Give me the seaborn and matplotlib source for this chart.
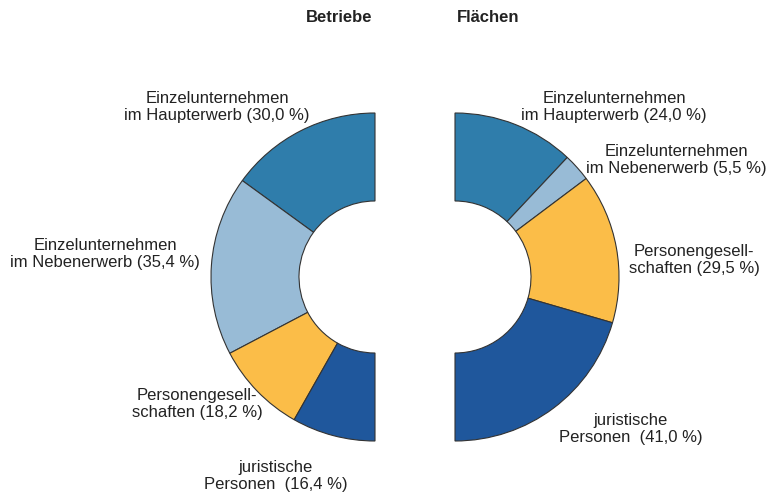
import matplotlib
matplotlib.use("Agg")
import matplotlib.pyplot as plt
import seaborn as sns

# Daten
kategorien = ["Einzelunternehmen im Haupterwerb", "Einzelunternehmen im Nebenerwerb",
              "Personengesellschaften", "juristische Personen"]
betriebe = [30.0, 35.4, 18.2, 16.4]
flaechen = [24.0, 5.5, 29.5, 41.0]
farben = ["#2f7dab", "#98bbd6", "#fbbd48", "#1f579c"]

labels_betriebe = ["Einzelunternehmen\nim Haupterwerb (30,0 %)",
                   "Einzelunternehmen\nim Nebenerwerb (35,4 %)",
                   "Personengesell-\nschaften (18,2 %)",
                   "juristische\nPersonen  (16,4 %)"]
labels_flaechen = ["Einzelunternehmen\nim Haupterwerb (24,0 %)",
                   "Einzelunternehmen\nim Nebenerwerb (5,5 %)",
                   "Personengesell-\nschaften (29,5 %)",
                   "juristische\nPersonen  (41,0 %)"]

sns.set_style("white")
plt.rcParams['font.family'] = ['Liberation Sans', 'DejaVu Sans']

fig = plt.figure(figsize=(7.67, 4.98), dpi=100)
ax = fig.add_axes([0, 0, 1, 1])

H = 498
radius = 164
breite = 88
keil = dict(width=breite, edgecolor="#333333", linewidth=0.8)


def halbring(werte, center, counterclock):
    # die zweite Haelfte bleibt unsichtbar (100 % = Halbkreis)
    wedges, _ = ax.pie(werte + [sum(werte)], colors=farben + ["none"],
                       startangle=90, counterclock=counterclock,
                       center=center, radius=radius, wedgeprops=keil, frame=True)
    wedges[-1].set_edgecolor("none")


halbring(betriebe, (375, H - 277), True)
halbring(flaechen, (455, H - 277), False)
ax.set_xlim(0, 767)
ax.set_ylim(0, 498)
ax.set_aspect("equal")
ax.axis("off")

txt = dict(fontsize=12, color="#222222", ha="center", va="center", linespacing=1.15)
pos_betriebe = [(217, 107), (105, 254), (197, 404), (276, 476)]
pos_flaechen = [(614, 107), (676, 160), (694, 260), (631, 429)]
for lab, (x, y) in zip(labels_betriebe, pos_betriebe):
    ax.text(x, H - y, lab, **txt)
for lab, (x, y) in zip(labels_flaechen, pos_flaechen):
    ax.text(x, H - y, lab, **txt)

ax.text(372, H - 17, "Betriebe", fontsize=12, fontweight="bold", color="#222222",
        ha="right", va="center")
ax.text(457, H - 17, "Flächen", fontsize=12, fontweight="bold", color="#222222",
        ha="left", va="center")

fig.savefig("out.png", dpi=100, facecolor="white")
